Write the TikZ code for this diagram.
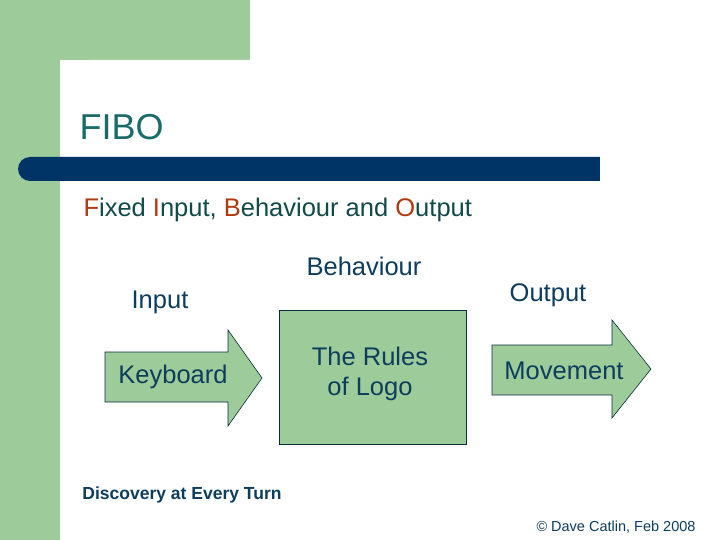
\documentclass[tikz,border=0pt]{standalone}
\usepackage{fontspec}
\setmainfont{Liberation Sans}
\definecolor{lgreen}{HTML}{9DCB9A}
\definecolor{navy}{HTML}{003366}
\definecolor{titlec}{HTML}{1A6A6A}
\definecolor{redb}{HTML}{B03A10}
\definecolor{txt}{HTML}{0D3D5C}
\begin{document}
\begin{tikzpicture}[x=1pt,y=-1pt,
  shp/.style={fill=lgreen,draw=txt!70!black,line width=0.6pt},
  lbl/.style={text=txt,font=\fontsize{25.5}{29}\selectfont,align=center}]
\useasboundingbox (0,0) rectangle (720,540);
\fill[white] (0,0) rectangle (720,540);
\fill[lgreen] (0,0) rectangle (250,60);
\fill[lgreen] (0,0) rectangle (60,540);
\fill[white] (60,540) -- (60,90) .. controls (60,73.4) and (73.4,60) .. (90,60) -- (250,60) -- (250,540) -- cycle;
\fill[navy,rounded corners=12pt] (18,157) rectangle (620,181);
\fill[white] (600,150) rectangle (720,190);
\node[anchor=west,text=titlec,font=\fontsize{36}{40}\selectfont] (title) at (76,127) {FIBO};
\node[anchor=west,text=titlec!70!black,font=\fontsize{25.5}{29}\selectfont] (sub) at (80,210)
 {\textcolor{redb}{F}ixed \textcolor{redb}{I}nput, \textcolor{redb}{B}ehaviour and \textcolor{redb}{O}utput};
\node[lbl] (beh) at (364,266) {Behaviour};
\node[lbl] (inp) at (160,302) {Input};
\node[lbl] (outp) at (548,295) {Output};
\draw[shp] (105,352) -- (228,352) -- (228,330) -- (262,378) -- (228,426) -- (228,402) -- (105,402) -- cycle;
\node[lbl] (kb) at (173,377) {Keyboard};
\draw[shp] (279,310) rectangle (466,444);
\node[lbl,font=\fontsize{25.5}{30}\selectfont] (rules) at (370,374) {The Rules\\of Logo};
\draw[shp] (492,345) -- (612,345) -- (612,320) -- (651,369) -- (612,418) -- (612,395) -- (492,395) -- cycle;
\node[lbl] (mv) at (564,371) {Movement};
\node[text=txt,font=\bfseries\fontsize{17.5}{20}\selectfont] (disc) at (182,495) {Discovery at Every Turn};
\node[text=txt,font=\fontsize{14.5}{17}\selectfont] (copy) at (616,527) {© Dave Catlin, Feb 2008};
\end{tikzpicture}
\end{document}
